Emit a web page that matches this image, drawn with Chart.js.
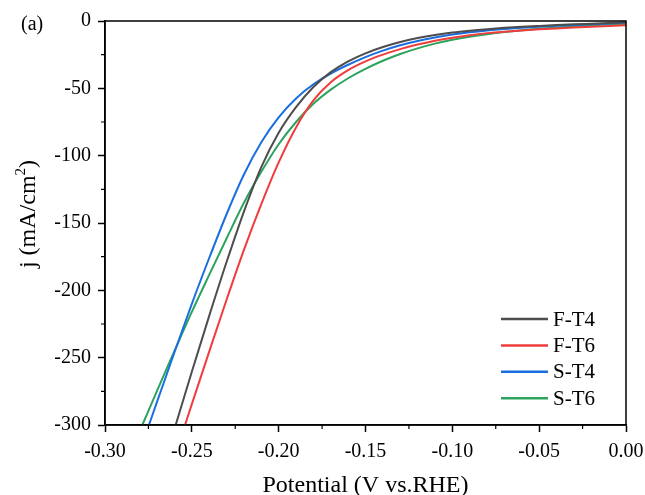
<!DOCTYPE html>
<html>
<head>
<meta charset="utf-8">
<script src="https://cdn.jsdelivr.net/npm/chart.js@4"></script>
<style>
  html, body { margin: 0; padding: 0; background: #fff; }
  #wrap { width: 645px; height: 495px; position: relative; }
</style>
</head>
<body>
<div id="wrap"><canvas id="lsvChart"></canvas></div>
<script>
// polarisation curves, potential (V vs RHE) against current density
const seriesNames = ['F-T4', 'F-T6', 'S-T4', 'S-T6'];
const seriesColors = ['#4d4d4d', '#f03c3c', '#1a6ee0', '#2ca35e'];

const ft4V = [-0.2593, -0.25, -0.24, -0.23, -0.22, -0.21, -0.20, -0.19, -0.18, -0.17, -0.16, -0.15, -0.14, -0.13, -0.12, -0.11, -0.10, -0.09, -0.08, -0.07, -0.06, -0.05, -0.04, -0.03, -0.02, -0.01, 0];
const ft4J = [-300, -260.5, -219, -179, -141.5, -108.5, -83, -64, -49, -38, -30, -24, -19.3, -15.6, -12.7, -10.4, -8.6, -7.2, -6.05, -5.1, -4.3, -3.65, -3.05, -2.5, -2.0, -1.5, -1.0];

const ft6V = [-0.2539, -0.25, -0.24, -0.23, -0.22, -0.21, -0.20, -0.19, -0.18, -0.17, -0.16, -0.15, -0.14, -0.13, -0.12, -0.11, -0.10, -0.09, -0.08, -0.07, -0.06, -0.05, -0.04, -0.03, -0.02, -0.01, 0];
const ft6J = [-300, -284.5, -245.5, -207, -170, -136, -105, -79, -59, -45.5, -36.5, -30, -25, -20.9, -17.5, -14.7, -12.4, -10.5, -9.0, -7.9, -7.0, -6.2, -5.5, -4.85, -4.25, -3.7, -3.2];

const st4V = [-0.2747, -0.27, -0.26, -0.25, -0.24, -0.23, -0.22, -0.21, -0.20, -0.19, -0.18, -0.17, -0.16, -0.15, -0.14, -0.13, -0.12, -0.11, -0.10, -0.09, -0.08, -0.07, -0.06, -0.05, -0.04, -0.03, -0.02, -0.01, 0];
const st4J = [-300, -282.7, -246, -210, -176, -143.5, -114, -90, -71.5, -57.5, -47, -39, -32.5, -26.8, -22, -18, -14.8, -12.2, -10.1, -8.4, -7.0, -5.9, -5.0, -4.25, -3.6, -3.0, -2.4, -1.8, -1.2];

const st6V = [-0.2785, -0.27, -0.26, -0.25, -0.24, -0.23, -0.22, -0.21, -0.20, -0.19, -0.18, -0.17, -0.16, -0.15, -0.14, -0.13, -0.12, -0.11, -0.10, -0.09, -0.08, -0.07, -0.06, -0.05, -0.04, -0.03, -0.02, -0.01, 0];
const st6J = [-300, -274.5, -245, -216, -188.5, -161.5, -135, -112, -91.5, -75, -61.5, -51, -42.5, -35.5, -29.5, -24.5, -20.3, -16.8, -14.0, -11.7, -9.8, -8.2, -6.9, -5.8, -4.8, -3.9, -3.1, -2.5, -2.0];

const xTicks = [-0.30, -0.25, -0.20, -0.15, -0.10, -0.05, 0.00];
const yTicks = [0, -50, -100, -150, -200, -250, -300];

const serif = '"Liberation Serif", "Times New Roman", serif';

function pts(xs, ys) {
    return xs.map((x, i) => ({ x: x, y: ys[i] }));
}

const allV = [ft4V, ft6V, st4V, st6V];
const allJ = [ft4J, ft6J, st4J, st6J];

const datasets = seriesNames.map((name, i) => ({
    label: name,
    data: pts(allV[i], allJ[i]),
    borderColor: seriesColors[i],
    backgroundColor: seriesColors[i],
    borderWidth: 2,
    pointRadius: 0,
    cubicInterpolationMode: 'monotone',
    fill: false
}));

// box on top/right, minor ticks, y title with superscript, legend, panel letter
const framePlugin = {
    id: 'frame',
    afterDraw(chart) {
        const ctx = chart.ctx;
        const a = chart.chartArea;
        const xs = chart.scales.x, ys = chart.scales.y;
        ctx.save();
        ctx.strokeStyle = '#000';
        ctx.lineWidth = 1.5;
        ctx.strokeRect(a.left, a.top, a.right - a.left, a.bottom - a.top);

        // minor ticks halfway between the majors
        ctx.lineWidth = 1.2;
        ctx.beginPath();
        for (let i = 0; i < xTicks.length - 1; i++) {
            const px = xs.getPixelForValue((xTicks[i] + xTicks[i + 1]) / 2);
            ctx.moveTo(px, a.bottom);
            ctx.lineTo(px, a.bottom + 4);
        }
        for (let i = 0; i < yTicks.length - 1; i++) {
            const py = ys.getPixelForValue((yTicks[i] + yTicks[i + 1]) / 2);
            ctx.moveTo(a.left, py);
            ctx.lineTo(a.left - 4, py);
        }
        ctx.stroke();

        // y axis title, rotated, with a real superscript
        ctx.fillStyle = '#000';
        ctx.save();
        ctx.translate(35, 214);
        ctx.rotate(-Math.PI / 2);
        ctx.textBaseline = 'alphabetic';
        ctx.textAlign = 'left';
        const big = '24px ' + serif, small = '15px ' + serif;
        const parts = [['j (mA/cm', big, 0], ['2', small, -10], [')', big, 0]];
        let w = 0;
        parts.forEach(p => { ctx.font = p[1]; w += ctx.measureText(p[0]).width; });
        let cx = -w / 2;
        parts.forEach(p => {
            ctx.font = p[1];
            ctx.fillText(p[0], cx, p[2]);
            cx += ctx.measureText(p[0]).width;
        });
        ctx.restore();

        // legend
        ctx.font = '21px ' + serif;
        ctx.textBaseline = 'middle';
        ctx.textAlign = 'left';
        chart.data.datasets.forEach((ds, i) => {
            const yy = a.bottom - 106 + i * 26.4;
            ctx.strokeStyle = ds.borderColor;
            ctx.lineWidth = 2.5;
            ctx.beginPath();
            ctx.moveTo(a.right - 125, yy);
            ctx.lineTo(a.right - 78, yy);
            ctx.stroke();
            ctx.fillText(ds.label, a.right - 73, yy + 1);
        });

        ctx.font = '20px ' + serif;
        ctx.fillText('(a)', 21, 25);
        ctx.restore();
    }
};

new Chart(document.getElementById('lsvChart'), {
    type: 'line',
    data: { datasets: datasets },
    plugins: [framePlugin],
    options: {
        responsive: true,
        maintainAspectRatio: false,
        animation: false,
        layout: { padding: { top: 21, right: 19, left: 0, bottom: 0 } },
        plugins: { legend: { display: false }, tooltip: { enabled: false } },
        scales: {
            x: {
                type: 'linear',
                min: -0.30,
                max: 0,
                afterFit: s => { s.height = 70; s.paddingLeft = 0; s.paddingRight = 0; },
                afterBuildTicks: s => { s.ticks = xTicks.map(v => ({ value: v })); },
                ticks: {
                    color: '#000',
                    font: { family: serif, size: 20 },
                    padding: 8,
                    maxRotation: 0,
                    callback: v => Math.abs(v) < 1e-9 ? '0.00' : v.toFixed(2)
                },
                grid: { drawOnChartArea: false, tickLength: 7, tickWidth: 1.5, tickColor: '#000' },
                border: { color: '#000', width: 1.5 },
                title: {
                    display: true,
                    text: 'Potential (V vs.RHE)',
                    color: '#000',
                    font: { family: serif, size: 24 },
                    padding: { top: 0, bottom: -5 }
                }
            },
            y: {
                type: 'linear',
                min: -300,
                max: 0,
                afterFit: s => { s.width = 105; },
                afterBuildTicks: s => { s.ticks = yTicks.map(v => ({ value: v })); },
                ticks: {
                    color: '#000',
                    font: { family: serif, size: 20 },
                    padding: 7
                },
                grid: { drawOnChartArea: false, tickLength: 7, tickWidth: 1.5, tickColor: '#000' },
                border: { color: '#000', width: 1.5 }
            }
        }
    }
});
</script>
</body>
</html>
